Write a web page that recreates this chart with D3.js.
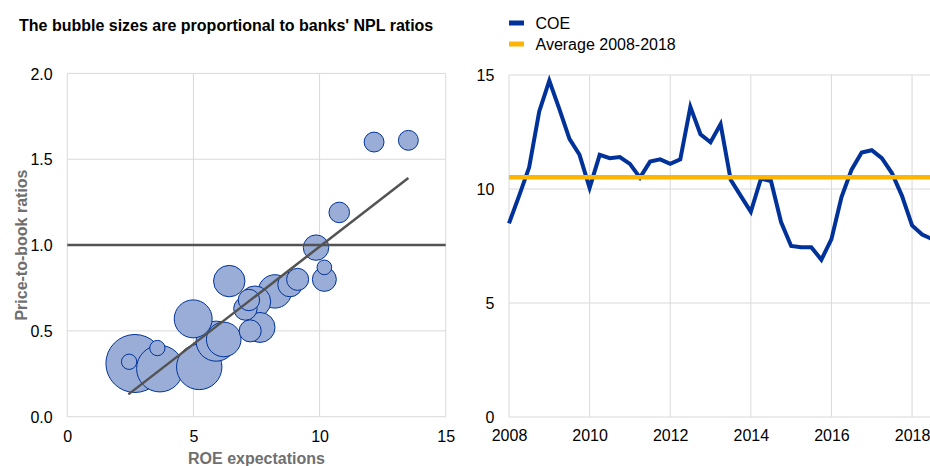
<!DOCTYPE html>
<html>
<head>
<meta charset="utf-8">
<script src="https://cdn.jsdelivr.net/npm/d3@7"></script>
<style>
  html, body { margin: 0; padding: 0; background: #fff; }
  svg { display: block; font-family: "Liberation Sans", Arial, sans-serif; }
</style>
</head>
<body>
<svg id="chart" width="930" height="466"></svg>
<script>
// ---------- Data: left panel (bubble chart) ----------
const roe = [12.16, 13.52, 10.78, 9.86, 10.19, 10.19, 6.42, 9.13, 8.83, 8.23, 7.44, 7.20, 7.06, 4.99, 7.64, 7.25, 5.90, 6.20, 2.68, 2.45, 3.57, 3.67, 5.23];
const pb  = [1.60, 1.61, 1.19, 0.985, 0.87, 0.80, 0.79, 0.80, 0.77, 0.73, 0.67, 0.68, 0.63, 0.57, 0.52, 0.50, 0.44, 0.45, 0.31, 0.32, 0.40, 0.28, 0.29];
const npl = [4.4, 4.4, 4.7, 7.2, 2.4, 6.4, 11.0, 5.4, 6.7, 12.4, 11.0, 5.1, 6.1, 16.0, 10.0, 5.4, 17.8, 13.3, 37.4, 2.6, 2.6, 24.1, 22.9];
const trendX = [2.42, 13.52];
const trendY = [0.13, 1.39];
const refLineY = 1.0;
const leftXTicks = [0, 5, 10, 15];
const leftYTicks = [0.0, 0.5, 1.0, 1.5, 2.0];

// ---------- Data: right panel (COE line) ----------
const coeDates = [2008.00, 2008.25, 2008.50, 2008.75, 2009.00, 2009.25, 2009.50, 2009.75,
                  2010.00, 2010.25, 2010.50, 2010.75, 2011.00, 2011.25, 2011.50, 2011.75,
                  2012.00, 2012.25, 2012.50, 2012.75, 2013.00, 2013.25, 2013.50, 2013.75,
                  2014.00, 2014.25, 2014.50, 2014.75, 2015.00, 2015.25, 2015.50, 2015.75,
                  2016.00, 2016.25, 2016.50, 2016.75, 2017.00, 2017.25, 2017.50, 2017.75,
                  2018.00, 2018.25, 2018.50];
const coeValues = [8.49, 9.70, 10.95, 13.40, 14.75, 13.50, 12.20, 11.50,
                   10.05, 11.50, 11.35, 11.40, 11.10, 10.50, 11.20, 11.30,
                   11.10, 11.30, 13.60, 12.40, 12.05, 12.85, 10.40, 9.70,
                   9.00, 10.45, 10.35, 8.55, 7.50, 7.45, 7.45, 6.90,
                   7.80, 9.65, 10.85, 11.60, 11.70, 11.35, 10.70, 9.70,
                   8.40, 8.00, 7.80];
const coeAverage = 10.52;
const rightXTicks = [2008, 2010, 2012, 2014, 2016, 2018];
const rightYTicks = [0, 5, 10, 15];
const legendLabels = ["COE", "Average 2008-2018"];

// ---------- Styles ----------
const ecbBlue = "#003299", ecbYellow = "#ffb400", bubbleFill = "#99add6";
const gridColor = "#d9d9d9", darkLine = "#535353", axisTitleColor = "#6f6f6f";
const fontSize = "16px";

const svg = d3.select("#chart");

// ===== Left panel =====
const lx = d3.scaleLinear().domain([0, 15]).range([67.3, 445.7]);
const ly = d3.scaleLinear().domain([0, 2]).range([416.7, 73.4]);
const rs = d3.scaleSqrt().domain([0, 40]).range([0, 30]);

const L = svg.append("g");
// gridlines
L.append("g").selectAll("line").data(leftXTicks).join("line")
  .attr("x1", d => lx(d)).attr("x2", d => lx(d))
  .attr("y1", ly(0)).attr("y2", ly(2))
  .attr("stroke", gridColor).attr("stroke-width", 1);
L.append("g").selectAll("line").data(leftYTicks).join("line")
  .attr("x1", lx(0)).attr("x2", lx(15))
  .attr("y1", d => ly(d)).attr("y2", d => ly(d))
  .attr("stroke", gridColor).attr("stroke-width", 1);

// bubbles (largest first)
const bubbles = roe.map((x, i) => ({x, y: pb[i], n: npl[i]})).sort((a, b) => b.n - a.n);
L.append("g").selectAll("circle").data(bubbles).join("circle")
  .attr("cx", d => lx(d.x)).attr("cy", d => ly(d.y)).attr("r", d => rs(d.n))
  .attr("fill", bubbleFill).attr("stroke", ecbBlue).attr("stroke-width", 1);

// reference line at 1.0
L.append("line")
  .attr("x1", lx(0)).attr("x2", lx(15))
  .attr("y1", ly(refLineY)).attr("y2", ly(refLineY))
  .attr("stroke", darkLine).attr("stroke-width", 2.5);
// trend line
L.append("line")
  .attr("x1", lx(trendX[0])).attr("x2", lx(trendX[1]))
  .attr("y1", ly(trendY[0])).attr("y2", ly(trendY[1]))
  .attr("stroke", darkLine).attr("stroke-width", 2.5);

// axes (labels only)
const lxAxis = d3.axisBottom(lx).tickValues(leftXTicks).tickSize(0).tickPadding(0).tickFormat(d3.format("d"));
L.append("g").attr("transform", `translate(0,${ly(0)})`).call(lxAxis)
  .call(g => g.select(".domain").remove())
  .selectAll("text").attr("font-size", fontSize).attr("font-family", "Liberation Sans, Arial, sans-serif")
  .attr("fill", "#000").attr("y", 19.3).attr("dy", "0.35em");
const lyAxis = d3.axisLeft(ly).tickValues(leftYTicks).tickSize(0).tickPadding(0).tickFormat(d3.format(".1f"));
L.append("g").attr("transform", `translate(${lx(0)},0)`).call(lyAxis)
  .call(g => g.select(".domain").remove())
  .selectAll("text").attr("font-size", fontSize).attr("font-family", "Liberation Sans, Arial, sans-serif")
  .attr("fill", "#000").attr("x", -14.6).attr("dy", "0.35em");

// axis titles
L.append("text").attr("x", (lx(0) + lx(15)) / 2).attr("y", 464)
  .attr("text-anchor", "middle").attr("font-size", fontSize).attr("font-weight", "bold")
  .attr("fill", axisTitleColor).text("ROE expectations");
L.append("text").attr("transform", `translate(26.5,${(ly(0) + ly(2)) / 2}) rotate(-90)`)
  .attr("text-anchor", "middle").attr("font-size", fontSize).attr("font-weight", "bold")
  .attr("fill", axisTitleColor).text("Price-to-book ratios");

// title
svg.append("text").attr("x", 19).attr("y", 30.5)
  .attr("font-size", fontSize).attr("font-weight", "bold").attr("fill", "#000")
  .text("The bubble sizes are proportional to banks' NPL ratios");

// ===== Right panel =====
const rx = d3.scaleLinear().domain([2008, 2018.5]).range([509, 932.2]);
const ry = d3.scaleLinear().domain([0, 15]).range([417, 75]);
const R = svg.append("g");

R.append("g").selectAll("line").data(rightXTicks).join("line")
  .attr("x1", d => rx(d)).attr("x2", d => rx(d))
  .attr("y1", ry(0)).attr("y2", ry(15))
  .attr("stroke", gridColor).attr("stroke-width", 1);
R.append("g").selectAll("line").data(rightYTicks).join("line")
  .attr("x1", rx(2008)).attr("x2", 930)
  .attr("y1", d => ry(d)).attr("y2", d => ry(d))
  .attr("stroke", gridColor).attr("stroke-width", 1);

const coe = coeDates.map((d, i) => ({d, v: coeValues[i]}));
R.append("path").datum(coe)
  .attr("d", d3.line().x(p => rx(p.d)).y(p => ry(p.v)))
  .attr("fill", "none").attr("stroke", ecbBlue).attr("stroke-width", 4)
  .attr("stroke-linejoin", "miter");
R.append("line")
  .attr("x1", rx(2008)).attr("x2", 930)
  .attr("y1", ry(coeAverage)).attr("y2", ry(coeAverage))
  .attr("stroke", ecbYellow).attr("stroke-width", 4.5);

const rxAxis = d3.axisBottom(rx).tickValues(rightXTicks).tickSize(0).tickPadding(0).tickFormat(d3.format("d"));
R.append("g").attr("transform", `translate(0,${ry(0)})`).call(rxAxis)
  .call(g => g.select(".domain").remove())
  .selectAll("text").attr("font-size", fontSize).attr("font-family", "Liberation Sans, Arial, sans-serif")
  .attr("fill", "#000").attr("y", 18.5).attr("dy", "0.35em");
const ryAxis = d3.axisLeft(ry).tickValues(rightYTicks).tickSize(0).tickPadding(0).tickFormat(d3.format("d"));
R.append("g").attr("transform", `translate(${rx(2008)},0)`).call(ryAxis)
  .call(g => g.select(".domain").remove())
  .selectAll("text").attr("font-size", fontSize).attr("font-family", "Liberation Sans, Arial, sans-serif")
  .attr("fill", "#000").attr("x", -14.6).attr("dy", "0.35em");

// legend
const legColors = [ecbBlue, ecbYellow];
const legY = [23, 44];
const leg = R.append("g").selectAll("g").data(legendLabels).join("g")
  .attr("transform", (d, i) => `translate(509,${legY[i]})`);
leg.append("rect").attr("x", 0).attr("y", -2.5).attr("width", 15).attr("height", 5)
  .attr("fill", (d, i) => legColors[i]);
leg.append("text").attr("x", 26.5).attr("y", 0).attr("dy", "0.35em")
  .attr("font-size", fontSize).attr("fill", "#000").text(d => d);
</script>
</body>
</html>
